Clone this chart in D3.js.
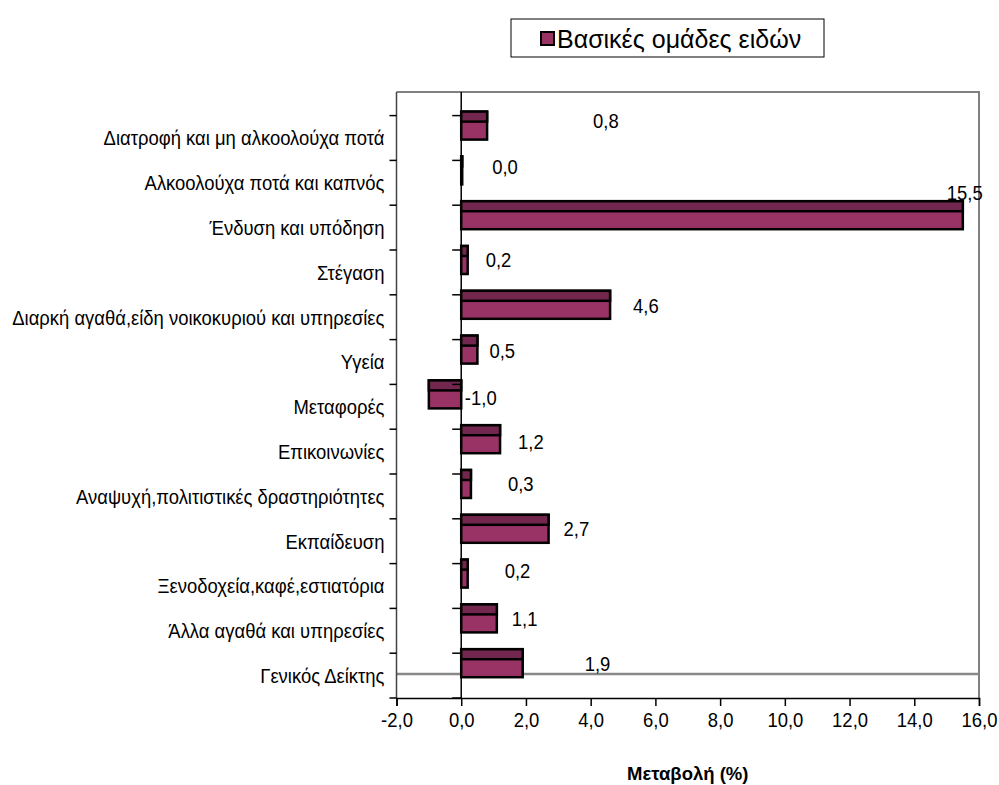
<!DOCTYPE html>
<html>
<head>
<meta charset="utf-8">
<script src="https://cdn.jsdelivr.net/npm/d3@7"></script>
<style>
    body { margin: 0; background: #fff; }
    svg text { font-family: "Liberation Sans", Arial, sans-serif; fill: #000; }
</style>
</head>
<body>
<script>
// DATA
var categories = [
    'Διατροφή και μη αλκοολούχα ποτά',
    'Αλκοολούχα ποτά και καπνός',
    'Ένδυση και υπόδηση',
    'Στέγαση',
    'Διαρκή αγαθά,είδη νοικοκυριού και υπηρεσίες',
    'Υγεία',
    'Μεταφορές',
    'Επικοινωνίες',
    'Αναψυχή,πολιτιστικές δραστηριότητες',
    'Εκπαίδευση',
    'Ξενοδοχεία,καφέ,εστιατόρια',
    'Άλλα αγαθά και υπηρεσίες',
    'Γενικός Δείκτης'
];
var values = [0.8, 0.0, 15.5, 0.2, 4.6, 0.5, -1.0, 1.2, 0.3, 2.7, 0.2, 1.1, 1.9];
var xTicks = [-2, 0, 2, 4, 6, 8, 10, 12, 14, 16];
var seriesName = 'Βασικές ομάδες ειδών';
var axisTitle = 'Μεταβολή (%)';

// LAYOUT (label nudges, px from bar end / bar centre)
var labelDx = [106, 31, -16, 18, 23, 12, 36, 18, 37, 15, 37, 15, 62];
var labelDy = [-5, -4, -23, 0, 1, 1, 3, 2, 0, 0, -3, 0, 0];

var chart = {
    init: function () {
        var self = this;

        self.width = 999;
        self.height = 785;
        self.plot = { left: 396.5, right: 979, top: 92, bottom: 698, bandTop: 115.6 };
        self.squeeze = 0.9;   // narrow look of the original font
        self.fontSize = 20.5;

        self.svg = d3.select('body').append('svg')
            .attr('width', self.width)
            .attr('height', self.height);

        self.x = d3.scaleLinear().domain([-2, 16]).range([self.plot.left, self.plot.right]);
        self.y = d3.scaleBand().domain(categories).range([self.plot.bandTop, self.plot.bottom]).padding(0);

        self.fmt = function (v) { return d3.format('.1f')(v).replace('.', ',').replace('\u2212', '-'); };

        self.drawFrame();
        self.drawBars();
        self.drawAxes();
        self.drawLegend();
    },
    // place a text at x,y with horizontal squeeze
    place: function (sel, fx, fy) {
        var self = this;
        sel.attr('x', 0).attr('y', 0)
            .attr('transform', function (d, i) {
                return 'translate(' + fx(d, i) + ',' + fy(d, i) + ') scale(' + self.squeeze + ',1)';
            });
    },
    drawFrame: function () {
        var self = this, p = self.plot, g = self.svg.append('g');

        // plot border top / right
        g.append('path')
            .attr('d', 'M' + p.left + ',' + p.top + 'H' + p.right + 'V' + p.bottom)
            .attr('fill', 'none').attr('stroke', '#808080').attr('stroke-width', 2);

        // grey line through last category
        var last = categories[categories.length - 1];
        var gy = self.y(last) + self.y.bandwidth() / 2 - 1.5;
        g.append('line')
            .attr('x1', p.left).attr('x2', p.right)
            .attr('y1', gy).attr('y2', gy)
            .attr('stroke', '#888').attr('stroke-width', 2.5);
    },
    drawBars: function () {
        var self = this,
            x0 = self.x(0),
            barH = 28,
            topH = 10;

        var bars = self.svg.append('g').selectAll('g').data(values).enter().append('g');

        bars.each(function (d, i) {
            var g = d3.select(this),
                y0 = self.y(categories[i]) - 4,
                xa = Math.min(x0, self.x(d)),
                w = Math.max(1, Math.abs(self.x(d) - x0));

            g.append('rect')
                .attr('x', xa).attr('y', y0).attr('width', w).attr('height', barH)
                .attr('fill', '#993366').attr('stroke', '#000').attr('stroke-width', 2.5);
            g.append('rect')
                .attr('x', xa).attr('y', y0).attr('width', w).attr('height', topH)
                .attr('fill', '#73274e').attr('stroke', '#000').attr('stroke-width', 2.5);
        });

        // data labels
        var labels = self.svg.append('g').selectAll('text').data(values).enter().append('text')
            .attr('dy', '0.36em')
            .attr('font-size', self.fontSize)
            .text(function (d) { return self.fmt(d); });
        self.place(labels,
            function (d, i) { return self.x(d) + labelDx[i]; },
            function (d, i) { return self.y(categories[i]) - 4 + barH / 2 + labelDy[i]; });
    },
    drawAxes: function () {
        var self = this, p = self.plot,
            bounds = categories.map(function (c) { return self.y(c); }).concat([p.bottom]),
            x0 = self.x(0);

        var g = self.svg.append('g');

        // left axis line
        g.append('line')
            .attr('x1', p.left).attr('x2', p.left).attr('y1', p.top).attr('y2', p.bottom)
            .attr('stroke', '#444').attr('stroke-width', 1.5);

        // zero line
        g.append('line')
            .attr('x1', x0).attr('x2', x0).attr('y1', p.top).attr('y2', p.bottom)
            .attr('stroke', '#000').attr('stroke-width', 1.5);

        // category boundary ticks
        g.selectAll('.lt').data(bounds).enter().append('line')
            .attr('x1', p.left - 7).attr('x2', p.left)
            .attr('y1', function (d) { return d; }).attr('y2', function (d) { return d; })
            .attr('stroke', '#000').attr('stroke-width', 1.5);
        g.selectAll('.zt').data(bounds).enter().append('line')
            .attr('x1', x0 - 9).attr('x2', x0)
            .attr('y1', function (d) { return d; }).attr('y2', function (d) { return d; })
            .attr('stroke', '#000').attr('stroke-width', 1.5);

        // category labels
        var cl = g.selectAll('.cl').data(categories).enter().append('text')
            .attr('dy', '0.36em')
            .attr('text-anchor', 'end')
            .attr('font-size', self.fontSize)
            .text(function (d) { return d; });
        self.place(cl,
            function () { return p.left - 12; },
            function (d) { return self.y(d) + self.y.bandwidth() / 2; });

        // x axis
        var xAxis = d3.axisBottom(self.x)
            .tickValues(xTicks)
            .tickSize(8)
            .tickPadding(6)
            .tickFormat(self.fmt);

        var ax = self.svg.append('g')
            .attr('transform', 'translate(0,' + p.bottom + ')')
            .call(xAxis);
        ax.select('.domain').attr('stroke', '#000').attr('stroke-width', 1.5);
        ax.selectAll('.tick line').attr('stroke', '#000').attr('stroke-width', 1.5);
        ax.selectAll('.tick text')
            .attr('font-size', self.fontSize)
            .attr('font-family', null)
            .attr('transform', 'scale(' + self.squeeze + ',1)');

        self.svg.append('text')
            .attr('x', (p.left + p.right) / 2)
            .attr('y', 780)
            .attr('text-anchor', 'middle')
            .attr('font-size', 18.5)
            .attr('font-weight', 'bold')
            .text(axisTitle);
    },
    drawLegend: function () {
        var self = this,
            g = self.svg.append('g').attr('transform', 'translate(511,19)');

        g.append('rect')
            .attr('x', 0).attr('y', 0).attr('width', 313).attr('height', 38)
            .attr('fill', '#fff').attr('stroke', '#000').attr('stroke-width', 1);
        g.append('rect')
            .attr('x', 30).attr('y', 13).attr('width', 13).attr('height', 13)
            .attr('fill', '#993366').attr('stroke', '#000').attr('stroke-width', 2);
        g.append('text')
            .attr('x', 46).attr('y', 19.5)
            .attr('dy', '0.36em')
            .attr('font-size', 25)
            .text(seriesName);
    }
};

chart.init();
</script>
</body>
</html>
